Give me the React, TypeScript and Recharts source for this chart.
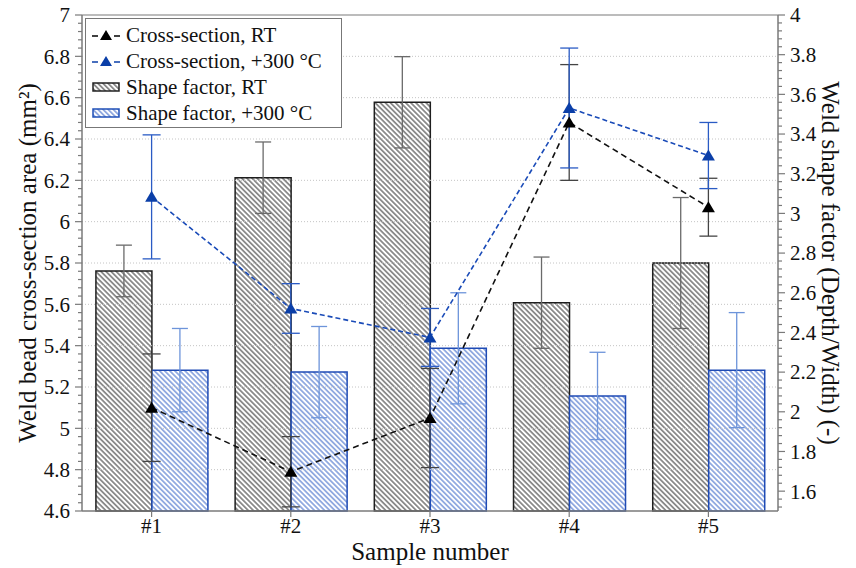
import React from 'react';
import {
  ComposedChart,
  Bar,
  Line,
  XAxis,
  YAxis,
  ErrorBar,
  ReferenceLine,
  Legend
} from 'recharts';

const categories = ['#1', '#2', '#3', '#4', '#5'];

// left axis: cross-section area (mm²)
const crossRT = [5.1, 4.79, 5.05, 6.48, 6.07];
const crossRTErr = [0.26, 0.17, 0.24, 0.28, 0.14];
const cross300 = [6.12, 5.58, 5.44, 6.55, 6.32];
const cross300Err = [0.3, 0.12, 0.14, 0.29, 0.16];

// right axis: shape factor (depth/width)
const shapeRT = [2.71, 3.18, 3.56, 2.55, 2.75];
const shapeRTErr = [0.13, 0.18, 0.23, 0.23, 0.33];
const shape300 = [2.21, 2.2, 2.32, 2.08, 2.21];
const shape300Err = [0.21, 0.23, 0.28, 0.22, 0.29];

const leftMajor = [4.6, 4.8, 5, 5.2, 5.4, 5.6, 5.8, 6, 6.2, 6.4, 6.6, 6.8, 7];
const rightMajor = [1.6, 1.8, 2, 2.2, 2.4, 2.6, 2.8, 3, 3.2, 3.4, 3.6, 3.8, 4];
const gridValues = [4.8, 5, 5.2, 5.4, 5.6, 5.8, 6, 6.2, 6.4, 6.6, 6.8];

const FONT = 'Liberation Serif, DejaVu Serif, serif';
const AXIS = '#7a7a7a';
const TS = 7;
const TM = 5;

const round2 = (v: number) => Math.round(v * 100) / 100;
// major ticks every 0.2, minor every 0.04
const leftTicks: number[] = [];
for (let i = 0; i <= 60; i++) leftTicks.push(round2(4.6 + i * 0.04));
const rightTicks: number[] = [];
for (let i = 0; i <= 62; i++) rightTicks.push(round2(1.52 + i * 0.04));

const data = categories.map((cat, i) => ({
  cat,
  crossRT: crossRT[i],
  crossRTErr: crossRTErr[i],
  cross300: cross300[i],
  cross300Err: cross300Err[i],
  shapeRT: shapeRT[i],
  shapeRTErr: shapeRTErr[i],
  shape300: shape300[i],
  shape300Err: shape300Err[i]
}));

const makeTick = (majors: number[], side: 'left' | 'right') => (props: any) => {
  const { x, y, payload } = props;
  const v = payload.value;
  const major = majors.some((m) => Math.abs(m - v) < 1e-6);
  const dir = side === 'left' ? -1 : 1;
  const axisX = side === 'left' ? x + TS + TM : x - TS - TM;
  return (
    <g>
      <line x1={axisX} x2={axisX + dir * (major ? 7 : 4)} y1={y} y2={y} stroke={AXIS} strokeWidth={1.2} />
      {major && (
        <text
          x={axisX + dir * (TS + TM)}
          y={y}
          dy="0.35em"
          textAnchor={side === 'left' ? 'end' : 'start'}
          fontSize={21}
          style={{ fontFamily: FONT }}
          fill="#111"
        >
          {String(round2(v))}
        </text>
      )}
    </g>
  );
};

const triangle = (color: string) => (props: any) => {
  const { cx, cy, index } = props;
  if (cx == null || cy == null) return <g key={index} />;
  return (
    <polygon
      key={index}
      points={`${cx},${cy - 6} ${cx + 6.5},${cy + 5} ${cx - 6.5},${cy + 5}`}
      fill={color}
    />
  );
};

const LineIcon = ({ color }: { color: string }) => (
  <svg width={28} height={14}>
    <line x1={0} x2={6} y1={8} y2={8} stroke={color} strokeWidth={1.5} />
    <line x1={22} x2={28} y1={8} y2={8} stroke={color} strokeWidth={1.5} />
    <polygon points="14,2 20,12 8,12" fill={color} />
  </svg>
);

const BarIcon = ({ fill, stroke }: { fill: string; stroke: string }) => (
  <svg width={28} height={14}>
    <rect x={1} y={3} width={26} height={8} fill={fill} stroke={stroke} strokeWidth={1.5} />
  </svg>
);

const legendRows = [
  { label: 'Cross-section, RT', icon: <LineIcon color="#000" /> },
  { label: 'Cross-section, +300 °C', icon: <LineIcon color="#0b3fa8" /> },
  { label: 'Shape factor, RT', icon: <BarIcon fill="url(#hatchBlack)" stroke="#222" /> },
  { label: 'Shape factor, +300 °C', icon: <BarIcon fill="url(#hatchBlue)" stroke="#2150b8" /> }
];

const LegendBox = () => (
  <div
    style={{
      width: 257,
      height: 110,
      boxSizing: 'border-box',
      border: '1px solid #777',
      background: '#fff',
      paddingTop: 3,
      fontFamily: FONT,
      fontSize: 21,
      color: '#111'
    }}
  >
    {legendRows.map((r) => (
      <div key={r.label} style={{ display: 'flex', alignItems: 'center', height: 26 }}>
        <span style={{ marginLeft: 6, marginRight: 6, display: 'flex' }}>{r.icon}</span>
        <span style={{ lineHeight: 1 }}>{r.label}</span>
      </div>
    ))}
  </div>
);

export default function App() {
  return (
    <div
      style={{
        position: 'absolute',
        left: 0,
        top: 0,
        width: 856,
        height: 568,
        background: '#fff',
        fontFamily: FONT
      }}
    >
      <svg width={0} height={0} style={{ position: 'absolute' }}>
        <defs>
          <pattern id="hatchBlack" width={3.6} height={3.6} patternUnits="userSpaceOnUse" patternTransform="rotate(-45)">
            <rect width={3.6} height={3.6} fill="#fff" />
            <line x1={1.8} y1={0} x2={1.8} y2={3.6} stroke="#2e2e2e" strokeWidth={1} />
          </pattern>
          <pattern id="hatchBlue" width={3.6} height={3.6} patternUnits="userSpaceOnUse" patternTransform="rotate(-45)">
            <rect width={3.6} height={3.6} fill="#fff" />
            <line x1={1.8} y1={0} x2={1.8} y2={3.6} stroke="#3a66c8" strokeWidth={1} />
          </pattern>
        </defs>
      </svg>
      <ComposedChart
        width={856}
        height={568}
        data={data}
        margin={{ top: 15, right: 0, left: 0, bottom: 0 }}
        barCategoryGap="10%"
        barGap={0}
        style={{ fontFamily: FONT }}
      >
        <XAxis
          dataKey="cat"
          height={57}
          axisLine={{ stroke: AXIS, strokeWidth: 1.5 }}
          tickLine={{ stroke: AXIS, strokeWidth: 1.2 }}
          tickSize={6}
          tickMargin={1}
          tick={{ fontSize: 21, fill: '#111', style: { fontFamily: FONT } }}
          label={{
            value: 'Sample number',
            position: 'insideBottom',
            offset: 8,
            style: { fontSize: 25, fill: '#111', fontFamily: FONT }
          }}
        />
        <YAxis
          yAxisId="left"
          orientation="left"
          type="number"
          domain={[4.6, 7]}
          ticks={leftTicks}
          interval={0}
          width={82}
          axisLine={{ stroke: AXIS, strokeWidth: 1.5 }}
          tickLine={false}
          tickSize={TS}
          tickMargin={TM}
          tick={makeTick(leftMajor, 'left')}
          label={{
            value: 'Weld bead cross-section area (mm²)',
            angle: -90,
            position: 'insideLeft',
            offset: 27,
            style: { textAnchor: 'middle', fontSize: 25, fill: '#111', fontFamily: FONT }
          }}
        />
        <YAxis
          yAxisId="right"
          orientation="right"
          type="number"
          domain={[1.5, 4]}
          ticks={rightTicks}
          interval={0}
          width={78}
          axisLine={{ stroke: AXIS, strokeWidth: 1.5 }}
          tickLine={false}
          tickSize={TS}
          tickMargin={TM}
          tick={makeTick(rightMajor, 'right')}
          label={{
            value: 'Weld shape factor (Depth/Width) (-)',
            angle: 90,
            position: 'insideRight',
            offset: 25,
            style: { textAnchor: 'middle', fontSize: 25, fill: '#111', fontFamily: FONT }
          }}
        />
        {gridValues.map((v) => (
          <ReferenceLine key={v} yAxisId="left" y={v} stroke="#c4c4c4" strokeDasharray="1 2" />
        ))}
        <ReferenceLine yAxisId="left" y={7} stroke={AXIS} strokeWidth={1.2} />
        <Legend
          layout="vertical"
          align="center"
          verticalAlign="middle"
          wrapperStyle={{ left: 85, top: 18, width: 257, height: 110 }}
          content={() => <LegendBox />}
        />
        <Bar
          yAxisId="right"
          dataKey="shapeRT"
          fill="url(#hatchBlack)"
          stroke="#1e1e1e"
          strokeWidth={1.5}
          isAnimationActive={false}
        >
          <ErrorBar dataKey="shapeRTErr" width={8} stroke="#6a6a6a" strokeWidth={1.3} direction="y" />
        </Bar>
        <Bar
          yAxisId="right"
          dataKey="shape300"
          fill="url(#hatchBlue)"
          stroke="#1f4bb5"
          strokeWidth={1.5}
          isAnimationActive={false}
        >
          <ErrorBar dataKey="shape300Err" width={8} stroke="#6d94da" strokeWidth={1.3} direction="y" />
        </Bar>
        <Line
          yAxisId="left"
          type="linear"
          dataKey="crossRT"
          stroke="#111"
          strokeWidth={1.6}
          strokeDasharray="6 4"
          dot={triangle('#000')}
          activeDot={false}
          isAnimationActive={false}
        >
          <ErrorBar dataKey="crossRTErr" width={9} stroke="#444" strokeWidth={1.3} direction="y" />
        </Line>
        <Line
          yAxisId="left"
          type="linear"
          dataKey="cross300"
          stroke="#1a4bb8"
          strokeWidth={1.6}
          strokeDasharray="5 3"
          dot={triangle('#0b3fa8')}
          activeDot={false}
          isAnimationActive={false}
        >
          <ErrorBar dataKey="cross300Err" width={9} stroke="#2a5bc4" strokeWidth={1.3} direction="y" />
        </Line>
      </ComposedChart>
    </div>
  );
}
